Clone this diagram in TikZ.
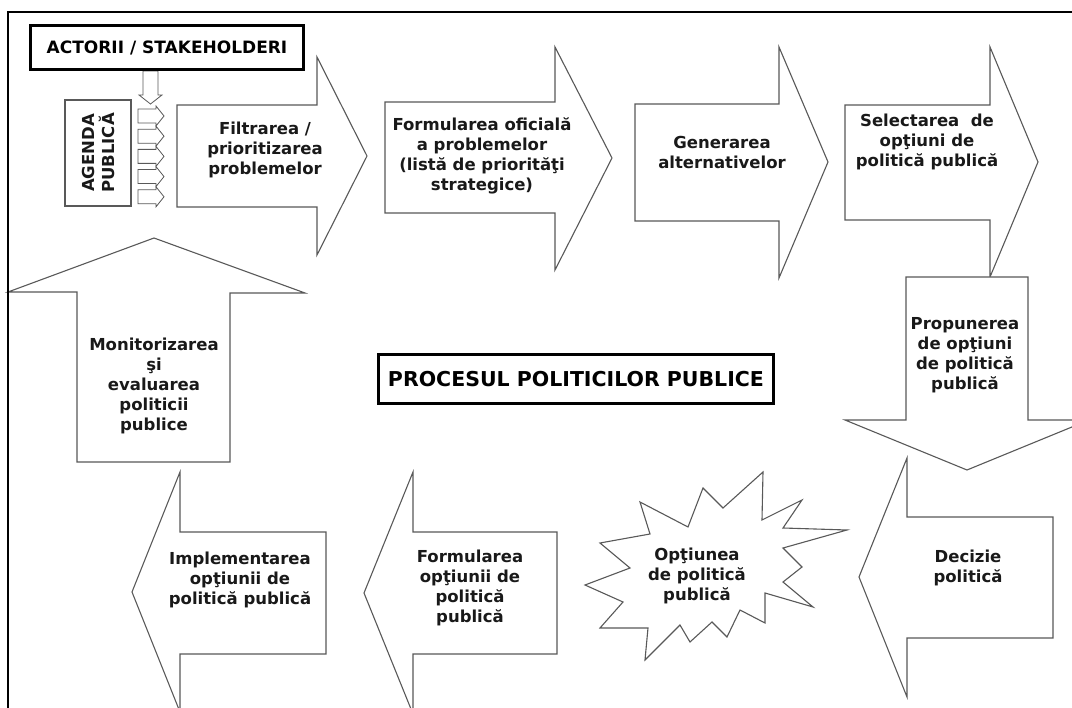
\documentclass[tikz,border=0pt]{standalone}
\usepackage{fontspec}
\setmainfont{DejaVu Sans}
\begin{document}
\begin{tikzpicture}[x=1pt,y=-1pt,
  shp/.style={draw=black!65, line width=1.1pt, fill=white, line join=miter},
  small/.style={draw=black!65, line width=0.8pt, fill=white},
  lbl/.style={font=\fontsize{16.5}{20}\selectfont\bfseries, align=center, text=black!90, inner sep=0pt},
  boxed/.style={draw=black, line width=3pt, fill=white, inner sep=0pt, text=black}]
\useasboundingbox (0,0) rectangle (1072,708);
\fill[white] (0,0) rectangle (1072,708);

% --- top row of right arrows
\draw[shp] (177,105) -- (317,105) -- (317,57) -- (367,156) -- (317,255) -- (317,207) -- (177,207) -- cycle;
\draw[shp] (385,102) -- (555,102) -- (555,47) -- (612,158) -- (555,270) -- (555,213) -- (385,213) -- cycle;
\draw[shp] (635,104) -- (779,104) -- (779,47) -- (828,162) -- (779,278) -- (779,221) -- (635,221) -- cycle;
\draw[shp] (845,105) -- (990,105) -- (990,47) -- (1038,162) -- (990,277) -- (990,220) -- (845,220) -- cycle;
% --- down arrow
\draw[shp] (906,277) -- (1028,277) -- (1028,420) -- (1089,420) -- (967,470) -- (845,420) -- (906,420) -- cycle;
% --- bottom row of left arrows
\draw[shp] (1053,517) -- (1053,638) -- (907,638) -- (907,697) -- (859,577) -- (907,458) -- (907,517) -- cycle;
\draw[shp] (557,532) -- (557,654) -- (413,654) -- (413,714) -- (364,593) -- (413,472) -- (413,532) -- cycle;
\draw[shp] (326,532) -- (326,654) -- (180,654) -- (180,712) -- (132,592) -- (180,472) -- (180,532) -- cycle;
% --- up arrow
\draw[shp] (77,462) -- (77,292) -- (8,292) -- (154,238) -- (305,293) -- (230,293) -- (230,462) -- cycle;
% --- starburst
\draw[shp] (763,472) -- (762,520) -- (802,500) -- (783,528) -- (847,530) -- (783,548) -- (802,567) -- (783,582)
  -- (813,607) -- (765,593) -- (765,623) -- (740,610) -- (727,637) -- (712,622) -- (690,642) -- (680,625)
  -- (645,660) -- (648,628) -- (600,628) -- (623,602) -- (585,585) -- (630,568) -- (600,543) -- (650,534)
  -- (640,502) -- (688,527) -- (703,488) -- (723,508) -- cycle;

% --- agenda box and small arrows
\draw[shp] (65,100) rectangle (131,206);
\node[lbl, rotate=90] (agenda) at (98,153) {AGENDA\\PUBLICĂ};
\draw[small] (143,71) -- (158,71) -- (158,95) -- (162,95) -- (150.5,104) -- (139,95) -- (143,95) -- cycle;
\foreach \t in {106,126.2,146.4,166.6,186.8}{
  \draw[small] (138,\t+3) -- (156,\t+3) -- (156,\t) -- (164,\t+10) -- (156,\t+20) -- (156,\t+17) -- (138,\t+17) -- cycle;
}

% --- boxed titles
\node[boxed, minimum width=273, minimum height=44, font=\fontsize{17}{20}\selectfont\bfseries] (actors) at (167,47.5) {ACTORII / STAKEHOLDERI};
\node[boxed, minimum width=395, minimum height=49, font=\fontsize{20.5}{24}\selectfont\bfseries] (title) at (576,379) {PROCESUL POLITICILOR PUBLICE};

% --- labels
\node[lbl] (filt) at (265,150) {Filtrarea /\\prioritizarea\\problemelor};
\node[lbl] (formof) at (482,156) {Formularea oficială\\a problemelor\\(listă de priorităţi\\strategice)};
\node[lbl] (gen) at (722,152) {Generarea\\alternativelor};
\node[lbl] (sel) at (927,142) {Selectarea\ \ de\\opţiuni de\\politică publică};
\node[lbl] (prop) at (965,355) {Propunerea\\de opţiuni\\de politică\\publică};
\node[lbl] (dec) at (968,568) {Decizie\\politică};
\node[lbl] (opt) at (697,576) {Opţiunea\\de politică\\publică};
\node[lbl] (formop) at (470,588) {Formularea\\opţiunii de\\politică\\publică};
\node[lbl] (impl) at (240,580) {Implementarea\\opţiunii de\\politică publică};
\node[lbl] (mon) at (154,386) {Monitorizarea\\şi\\evaluarea\\politicii\\publice};

% --- outer frame
\draw[black, line width=2pt] (8,730) -- (8,12) -- (1090,12);
\end{tikzpicture}
\end{document}
